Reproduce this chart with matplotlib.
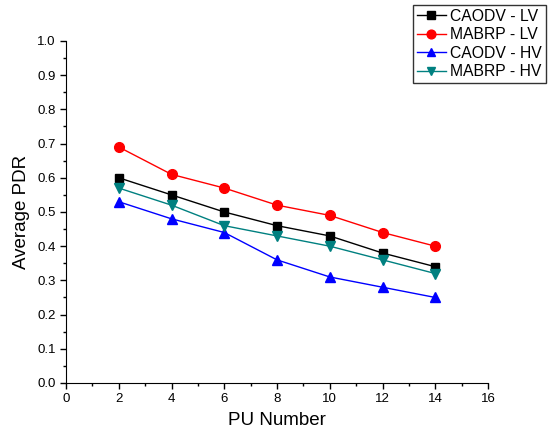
import matplotlib
matplotlib.use("Agg")
import matplotlib.pyplot as plt
from matplotlib.ticker import MultipleLocator, FormatStrFormatter

plt.rcParams['font.family'] = ['Liberation Sans', 'DejaVu Sans']

pu = [2, 4, 6, 8, 10, 12, 14]
caodv_lv = [0.60, 0.55, 0.50, 0.46, 0.43, 0.38, 0.34]
mabrp_lv = [0.69, 0.61, 0.57, 0.52, 0.49, 0.44, 0.40]
caodv_hv = [0.53, 0.48, 0.44, 0.36, 0.31, 0.28, 0.25]
mabrp_hv = [0.57, 0.52, 0.46, 0.43, 0.40, 0.36, 0.32]

fig = plt.figure(figsize=(5.49, 4.37), dpi=100)
ax = fig.add_axes([0.1202, 0.1236, 0.7688, 0.7826])

ax.plot(pu, caodv_lv, color='black', marker='s', ms=6, lw=1, label='CAODV - LV')
ax.plot(pu, mabrp_lv, color='red', marker='o', ms=7, lw=1, label='MABRP - LV')
ax.plot(pu, caodv_hv, color='blue', marker='^', ms=7, lw=1, label='CAODV - HV')
ax.plot(pu, mabrp_hv, color='#008080', marker='v', ms=7, lw=1, label='MABRP - HV')

ax.set_xlim(0, 16)
ax.set_ylim(0, 1.0)
ax.xaxis.set_major_locator(MultipleLocator(2))
ax.xaxis.set_minor_locator(MultipleLocator(1))
ax.yaxis.set_major_locator(MultipleLocator(0.1))
ax.yaxis.set_minor_locator(MultipleLocator(0.05))
ax.yaxis.set_major_formatter(FormatStrFormatter('%.1f'))
for s in ['top', 'right']:
    ax.spines[s].set_visible(False)
ax.tick_params(which='major', direction='out', length=4.5, width=1, labelsize=9.5, pad=3)
ax.tick_params(which='minor', direction='out', length=2.5, width=1)

ax.set_xlabel('PU Number', fontsize=13.5, labelpad=5)
ax.set_ylabel('Average PDR', fontsize=13.5, labelpad=5)

leg = fig.legend(loc='upper right', bbox_to_anchor=(546/549, 1 - 5/437), fontsize=11.3,
                 frameon=True, fancybox=False, edgecolor='black', borderpad=0.25,
                 labelspacing=0.22, handlelength=1.9, handletextpad=0.25, borderaxespad=0,
                 markerscale=0.9)
leg.get_frame().set_linewidth(1)

fig.savefig('out.png', dpi=100)
